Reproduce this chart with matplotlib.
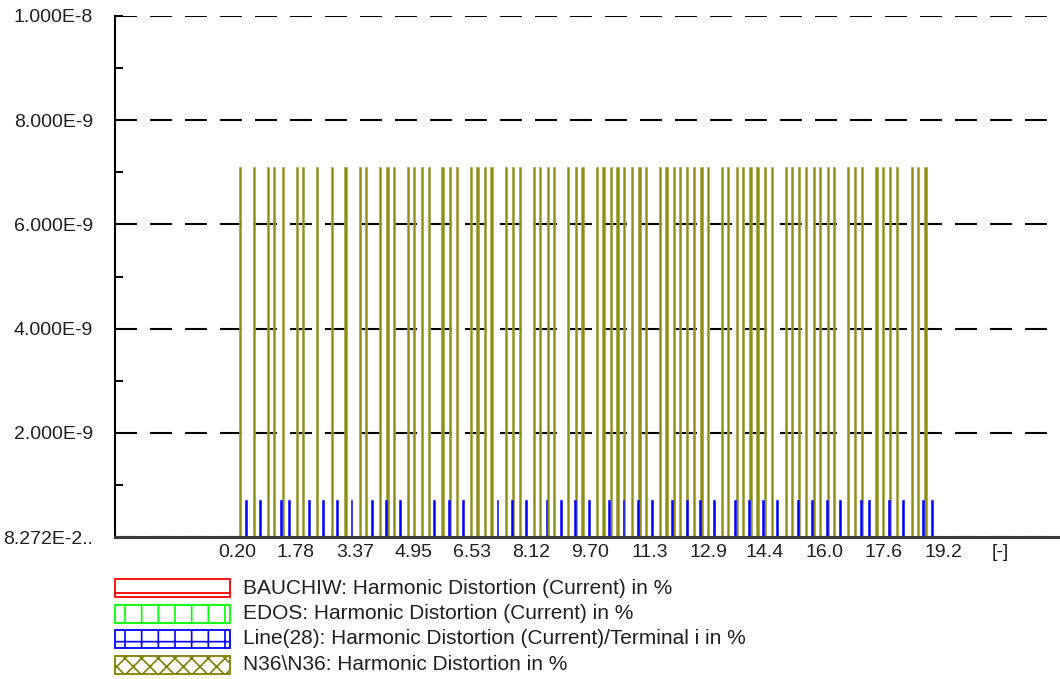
import matplotlib
matplotlib.use("Agg")
import matplotlib.pyplot as plt
from matplotlib.patches import Rectangle
from matplotlib.lines import Line2D

plt.rcParams['font.family'] = ['Liberation Sans', 'DejaVu Sans']
plt.rcParams['hatch.linewidth'] = 1.2
plt.rcParams['lines.scale_dashes'] = False

# N36\N36 Balken (x-Position, Hoehe)
n36_x = [0.28, 0.66, 1.04, 1.20, 1.43, 1.81, 1.97, 2.36, 2.75, 3.12, 3.51, 3.66,
         4.05, 4.25, 4.42, 4.81, 4.97, 5.17, 5.37, 5.73, 5.93, 6.11, 6.50, 6.67,
         6.87, 7.05, 7.43, 7.62, 7.81, 8.19, 8.35, 8.56, 8.74, 9.11, 9.32, 9.50,
         9.88, 10.06, 10.26, 10.44, 10.62, 10.82, 11.03, 11.21, 11.58, 11.76, 11.96,
         12.12, 12.32, 12.50, 12.70, 12.88, 13.26, 13.42, 13.65, 13.82, 14.02, 14.21,
         14.41, 14.59, 14.97, 15.14, 15.32, 15.51, 15.73, 15.89, 16.10, 16.27, 16.65,
         16.83, 17.03, 17.41, 17.58, 17.77, 17.97, 18.36, 18.52, 18.73]
n36_val = 7.10e-9

# Line(28) Balken
line28_x = [0.44, 0.82, 1.38, 1.60, 2.14, 2.52, 2.90, 3.28, 3.83, 4.21, 4.59,
            5.51, 5.90, 6.28, 7.21, 7.60, 7.98, 8.53, 8.91, 9.29, 9.67, 10.22,
            10.60, 10.98, 11.36, 11.91, 12.30, 12.67, 13.04, 13.60, 13.98, 14.36,
            14.74, 15.30, 15.68, 16.07, 16.43, 17.00, 17.20, 17.75, 18.13, 18.67, 18.90]
line28_val = 7.15e-10

ytick_vals = [0, 2e-9, 4e-9, 6e-9, 8e-9, 1e-8]
ytick_lbl = ['8.272E-2..', '2.000E-9', '4.000E-9', '6.000E-9', '8.000E-9', '1.000E-8']
yminor_vals = [1e-9, 3e-9, 5e-9, 7e-9, 9e-9]
xtick_lbl = ['0.20', '1.78', '3.37', '4.95', '6.53', '8.12', '9.70',
             '11.3', '12.9', '14.4', '16.0', '17.6', '19.2']
xunit_pos = 20.73

legend_names = ['BAUCHIW: Harmonic Distortion (Current) in %',
                'EDOS: Harmonic Distortion (Current) in %',
                'Line(28): Harmonic Distortion (Current)/Terminal i in %',
                'N36\\N36: Harmonic Distortion in %']
legend_colors = ['#ff0000', '#00ff00', '#0000ff', '#808000']
legend_hatch = ['', '|', '+', 'xx']

W, H = 1060, 679
fig = plt.figure(figsize=(W / 100, H / 100), dpi=100)
ax = fig.add_axes([114.5 / W, 1 - 537.3 / H, 1 - 114.5 / W, (537.3 - 15.7) / H])

ax.bar(n36_x, n36_val, width=0.06, color='#8e8e14', edgecolor='#a4a448', linewidth=0.5, zorder=3)
ax.bar(line28_x, line28_val, width=0.05, color='#0000ff', edgecolor='#2020ff', linewidth=0.5, zorder=4)

ax.set_xlim(-3.10, 22.35)
ax.set_ylim(0, 1.0e-8)

ax.set_yticks(ytick_vals)
ax.set_yticklabels(ytick_lbl)
ax.set_yticks(yminor_vals, minor=True)
xt = [float(s) for s in xtick_lbl] + [xunit_pos]
ax.set_xticks(xt)
ax.set_xticklabels(xtick_lbl + ['[-]'])

ax.yaxis.grid(True, which='major', color='black', linestyle=(0, (15.8, 9.4)), linewidth=1.5, zorder=5)
ax.set_axisbelow(False)

for s in ['top', 'right']:
    ax.spines[s].set_visible(False)
ax.spines['left'].set_linewidth(1.5)
ax.spines['left'].set_color('black')
ax.spines['bottom'].set_linewidth(2.2)
ax.spines['bottom'].set_color('#3a3a3a')
ax.spines['bottom'].set_zorder(6)

ax.tick_params(axis='y', which='both', direction='in', length=6, width=1.4,
               color='black', pad=15.5, labelsize=14, labelcolor='#202020')
ax.tick_params(axis='x', length=0, pad=5, labelsize=14, labelcolor='#202020')

# Legende unter dem Diagramm
row_y = [588, 613.5, 639, 664.5]
bx, bw, bh = 115, 115, 18
for i in range(4):
    y0 = 1 - (row_y[i] + bh / 2) / H
    r = Rectangle((bx / W, y0), bw / W, bh / H, transform=fig.transFigure,
                  facecolor='white', edgecolor=legend_colors[i], hatch=legend_hatch[i] or None,
                  linewidth=1.3)
    fig.add_artist(r)
    if i == 0:
        yl = 1 - (row_y[i] - bh / 2 + 0.75 * bh) / H
        fig.add_artist(Line2D([bx / W, (bx + bw) / W], [yl, yl], transform=fig.transFigure,
                              color=legend_colors[i], linewidth=1.3))
    fig.text(243 / W, 1 - row_y[i] / H, legend_names[i], fontsize=15, color='#202020',
             va='center', ha='left')

fig.savefig('out.png', dpi=100)
